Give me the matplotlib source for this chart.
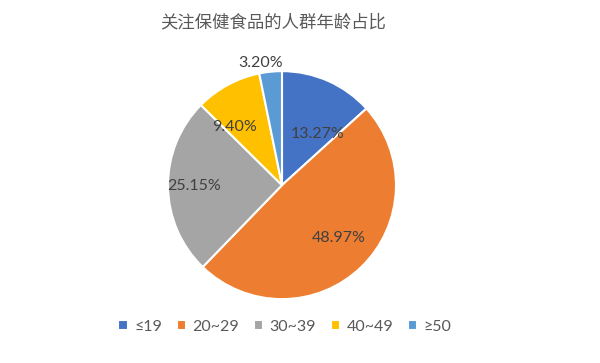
import numpy as np
import matplotlib
matplotlib.use("Agg")
import matplotlib.pyplot as plt

plt.rcParams['font.family'] = ['Lato', 'Noto Sans CJK SC', 'DejaVu Sans']

title = "关注保健食品的人群年龄占比"
groups = ["≤19", "20~29", "30~39", "40~49", "≥50"]
shares = [13.27, 48.97, 25.15, 9.40, 3.20]
colors = ["#4472C4", "#ED7D31", "#A5A5A5", "#FFC000", "#5B9BD5"]
# label placement: distance from centre (fraction of radius) and angle nudge (deg)
label_dist = [0.55, 0.68, 0.77, 0.66, 1.09]
label_turn = [-11, 3, 0, 11, 4]

fig = plt.figure(figsize=(6, 3.63), dpi=100)
ax = fig.add_axes([0.28, 0.176, 0.38, 0.628])

wedges, _ = ax.pie(shares, colors=colors, startangle=90, counterclock=False,
                   wedgeprops=dict(edgecolor='white', linewidth=1.5))

total = sum(shares)
cum = 0
for i, v in enumerate(shares):
    mid = np.deg2rad(90 - (cum + v / 2) / total * 360 + label_turn[i])
    cum += v
    d = label_dist[i]
    ax.text(d * np.cos(mid), d * np.sin(mid), "%.2f%%" % v,
            ha='center', va='center', fontsize=11.5, color='#404040')

ax.set_aspect('equal')
ax.set_xlim(-1, 1)
ax.set_ylim(-1, 1)

fig.text(0.455, 0.94, title, ha='center', va='center', fontsize=12.5,
         color='#595959')

fig.legend(wedges, groups, loc='center', bbox_to_anchor=(0.475, 0.1),
           ncol=5, frameon=False, fontsize=11.5, handlelength=0.6,
           handleheight=0.6, handletextpad=0.4, columnspacing=0.9,
           labelcolor='#595959')

fig.savefig("out.png", dpi=100, facecolor='white')
